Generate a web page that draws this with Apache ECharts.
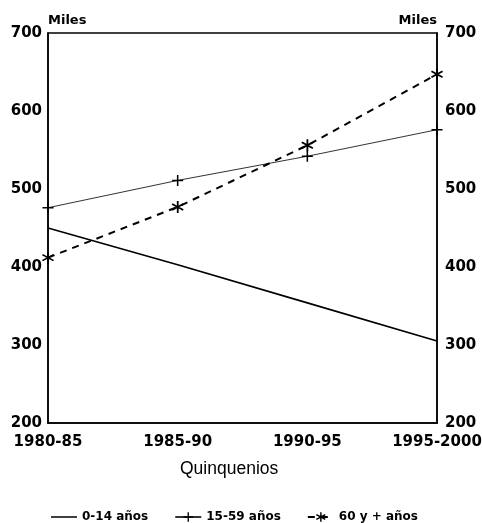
<!DOCTYPE html>
<html>
<head>
<meta charset="utf-8">
<script src="https://cdn.jsdelivr.net/npm/echarts@6/dist/echarts.min.js"></script>
<style>html,body{margin:0;padding:0;background:#fff;}#c{width:482px;height:523px;}</style>
</head>
<body>
<div id="c"></div>
<script>
const categories = ['1980-85', '1985-90', '1990-95', '1995-2000'];
const seriesNames = ['0-14 años', '15-59 años', '60 y + años'];
const age0to14 = [450, 403, 354, 305];
const age15to59 = [476, 511, 542, 576];
const age60plus = [412, 477, 556, 647];
const yTicks = [200, 300, 400, 500, 600, 700];

const F = 'DejaVu Sans';
const plusPath = 'path://M4.3,0h1.4v10h-1.4z M0,4.3h10v1.4h-10z';
const starPath = 'path://M4.3,0L5.7,0L5.7,10L4.3,10Z M0.97,1.9L9.63,6.9L8.93,8.1L0.27,3.1Z M0.27,6.9L8.93,1.9L9.63,3.1L0.97,8.1Z';
const linePath = 'path://M0,0h0.01v0.01h-0.01z M0,5.2h26v1.6h-26z M25.99,11.99h0.01v0.01h-0.01z';

const chart = echarts.init(document.getElementById('c'), null, {renderer: 'canvas'});
const yAxisBase = {
  type: 'value', min: yTicks[0], max: yTicks[yTicks.length - 1], interval: 100,
  splitLine: {show: false}, axisTick: {show: false},
  axisLine: {show: true, lineStyle: {color: '#000', width: 1.5}},
  nameLocation: 'end', nameGap: 6,
  axisLabel: {color: '#000', fontFamily: F, fontWeight: 'bold', fontSize: 15}
};
chart.setOption({
  animation: false,
  backgroundColor: '#fff',
  title: {
    text: 'Quinquenios', left: 180, top: 460, padding: 0,
    textStyle: {fontFamily: 'Liberation Sans', fontWeight: 'normal', fontSize: 17.5, color: '#000'}
  },
  legend: {
    left: 46, top: 506, itemGap: 26, itemWidth: 26, itemHeight: 12,
    textStyle: {fontFamily: F, fontWeight: 'bold', fontSize: 12, color: '#000'},
    data: [{name: seriesNames[0], icon: linePath}, seriesNames[1], seriesNames[2]]
  },
  grid: {left: 48, right: 45, top: 33, bottom: 100, show: true, borderColor: '#000', borderWidth: 1.5,
    outerBoundsMode: 'none', containLabel: false},
  xAxis: {
    type: 'category', data: categories, boundaryGap: false,
    axisLine: {show: true, lineStyle: {color: '#000', width: 1.5}},
    axisTick: {show: false}, splitLine: {show: false},
    axisLabel: {color: '#000', fontFamily: F, fontWeight: 'bold', fontSize: 15, margin: 12, interval: 0}
  },
  yAxis: [
    Object.assign({}, yAxisBase, {
      position: 'left', name: 'Miles',
      nameTextStyle: {fontFamily: F, fontWeight: 'bold', fontSize: 13, color: '#000', align: 'left', padding: [0, 0, 0, 0]},
      axisLabel: Object.assign({}, yAxisBase.axisLabel, {margin: 6})
    }),
    Object.assign({}, yAxisBase, {
      position: 'right', name: 'Miles',
      nameTextStyle: {fontFamily: F, fontWeight: 'bold', fontSize: 13, color: '#000', align: 'right', padding: [0, 0, 0, 0]},
      axisLabel: Object.assign({}, yAxisBase.axisLabel, {margin: 8})
    })
  ],
  series: [
    {
      name: seriesNames[0], type: 'line', data: age0to14, yAxisIndex: 0,
      symbol: 'none', lineStyle: {color: '#000', width: 1.6, type: 'solid'},
      itemStyle: {color: '#000'}
    },
    {
      name: seriesNames[1], type: 'line', data: age15to59, yAxisIndex: 0,
      symbol: plusPath, symbolSize: 11, showAllSymbol: true,
      lineStyle: {color: '#333', width: 1, type: 'solid'},
      itemStyle: {color: '#000', borderWidth: 0}
    },
    {
      name: seriesNames[2], type: 'line', data: age60plus, yAxisIndex: 0,
      symbol: starPath, symbolSize: 12, showAllSymbol: true,
      lineStyle: {color: '#000', width: 2, type: [7, 6]},
      itemStyle: {color: '#000', borderWidth: 0}
    }
  ]
});
</script>
</body>
</html>
